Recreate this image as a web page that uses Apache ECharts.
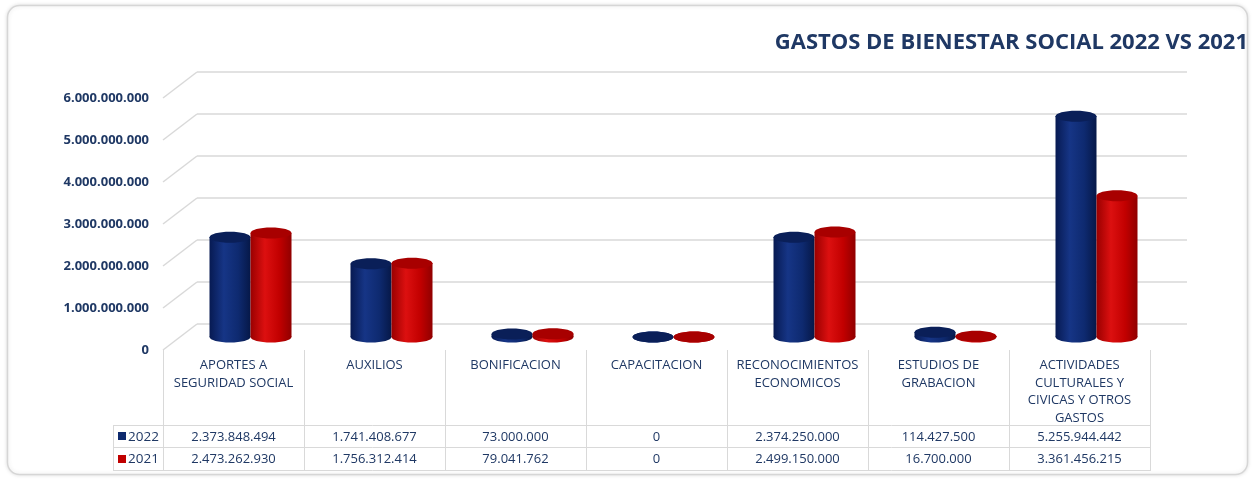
<!DOCTYPE html>
<html>
<head>
<meta charset="utf-8">
<script src="https://cdn.jsdelivr.net/npm/echarts@6/dist/echarts.min.js"></script>
<style>
  html, body { margin: 0; padding: 0; background: #fff; }
  #chart { width: 1252px; height: 479px; }
</style>
</head>
<body>
<div id="chart"></div>
<script>
// datos
const categorias = [
  'APORTES A\nSEGURIDAD SOCIAL',
  'AUXILIOS',
  'BONIFICACION',
  'CAPACITACION',
  'RECONOCIMIENTOS\nECONOMICOS',
  'ESTUDIOS DE\nGRABACION',
  'ACTIVIDADES\nCULTURALES Y\nCIVICAS Y OTROS\nGASTOS'
]
const gastos2022 = [2373848494, 1741408677, 73000000, 0, 2374250000, 114427500, 5255944442]
const gastos2021 = [2473262930, 1756312414, 79041762, 0, 2499150000, 16700000, 3361456215]
const anios = ['2022', '2021']
const ticksY = [0, 1000000000, 2000000000, 3000000000, 4000000000, 5000000000, 6000000000]

const AZUL = '#1f3864'
const FUENTE = '"Open Sans", "Noto Sans", sans-serif'
// desplazamiento de la pared del fondo (efecto 3D)
const DX = 34
const DY = -26

function puntos(n) {
  return String(n).replace(/\B(?=(\d{3})+(?!\d))/g, '.')
}

const colores = [
  { cuerpo: ['#071a52', '#163586', '#0e2a70', '#061848'], tapa: '#0a1f58' },
  { cuerpo: ['#9a0000', '#dc1010', '#c20000', '#900000'], tapa: '#a80000' }
]

function cilindro(idx) {
  return function (params, api) {
    const i = api.value(0)
    const v = api.value(1)
    const top = api.coord([i, v])
    const base = api.coord([i, 0])
    const w = 41
    const ry = 5.5
    const cx = top[0] + DX / 2 + (idx === 0 ? -w / 2 : w / 2)
    const yTop = top[1] + DY / 2
    const yBase = base[1] + DY / 2
    const c = colores[idx].cuerpo
    const grad = new echarts.graphic.LinearGradient(0, 0, 1, 0, [
      { offset: 0, color: c[0] },
      { offset: 0.35, color: c[1] },
      { offset: 0.7, color: c[2] },
      { offset: 1, color: c[3] }
    ])
    return {
      type: 'group',
      children: [
        { type: 'ellipse', shape: { cx: cx, cy: yBase, rx: w / 2, ry: ry }, style: { fill: grad } },
        { type: 'rect', shape: { x: cx - w / 2, y: yTop, width: w, height: yBase - yTop }, style: { fill: grad } },
        { type: 'ellipse', shape: { cx: cx, cy: yTop, rx: w / 2, ry: ry }, style: { fill: colores[idx].tapa } }
      ]
    }
  }
}

const chart = echarts.init(document.getElementById('chart'))

const option = {
  animation: false,
  title: {
    text: 'GASTOS DE BIENESTAR SOCIAL 2022 VS 2021',
    right: -1,
    top: 27,
    textStyle: { fontFamily: FUENTE, fontWeight: 'bold', fontSize: 22, color: AZUL }
  },
  grid: [
    { left: 163, right: 102, top: 98, bottom: 129 }, // plano frontal
    { left: 197, right: 65, top: 72, bottom: 155 } // pared del fondo
  ],
  xAxis: [
    {
      type: 'category',
      gridIndex: 0,
      data: categorias,
      axisLine: { show: false },
      axisTick: { show: true, length: 121, lineStyle: { color: '#d9d9d9', width: 1 } },
      axisLabel: {
        interval: 0,
        margin: 7,
        color: AZUL,
        fontFamily: FUENTE,
        fontSize: 13,
        lineHeight: 17.5,
        align: 'center'
      }
    },
    { type: 'value', gridIndex: 1, show: false, min: 0, max: 1 }
  ],
  yAxis: [
    {
      type: 'value',
      gridIndex: 0,
      min: 0,
      max: 6000000000,
      interval: 1000000000,
      splitLine: { show: false },
      axisLine: { show: false },
      axisTick: { show: false },
      axisLabel: {
        margin: 14,
        color: AZUL,
        fontFamily: FUENTE,
        fontWeight: 'bold',
        fontSize: 13,
        formatter: (v) => puntos(v)
      }
    },
    {
      type: 'value',
      gridIndex: 1,
      min: 0,
      max: 6000000000,
      interval: 1000000000,
      axisLine: { show: false },
      axisTick: { show: false },
      axisLabel: { show: false },
      splitLine: { lineStyle: { color: '#d9d9d9', width: 1.5 } }
    }
  ],
  series: [
    {
      // lineas diagonales del costado
      type: 'custom',
      xAxisIndex: 0,
      yAxisIndex: 0,
      silent: true,
      clip: false,
      data: ticksY.map((t) => [0, t]),
      renderItem: function (params, api) {
        const p = api.coord([0, api.value(1)])
        const x0 = p[0] - api.size([1, 0])[0] / 2
        return {
          type: 'line',
          shape: { x1: x0, y1: p[1], x2: x0 + DX, y2: p[1] + DY },
          style: { stroke: '#d9d9d9', lineWidth: 1.5 }
        }
      }
    },
    {
      name: anios[0],
      type: 'custom',
      xAxisIndex: 0,
      yAxisIndex: 0,
      clip: false,
      data: gastos2022.map((v, i) => [i, v]),
      renderItem: cilindro(0)
    },
    {
      name: anios[1],
      type: 'custom',
      xAxisIndex: 0,
      yAxisIndex: 0,
      clip: false,
      data: gastos2021.map((v, i) => [i, v]),
      renderItem: cilindro(1)
    },
    {
      // tabla de datos
      type: 'custom',
      xAxisIndex: 0,
      yAxisIndex: 0,
      silent: true,
      clip: false,
      data: gastos2022.map((v, i) => [i, v, gastos2021[i]]),
      renderItem: function (params, api) {
        const p = api.coord([api.value(0), 0])
        const celda = (txt, y) => ({
          type: 'text',
          style: {
            x: p[0], y: y, text: txt, align: 'center', verticalAlign: 'middle',
            fill: AZUL, font: '13px ' + FUENTE
          }
        })
        return {
          type: 'group',
          children: [celda(puntos(api.value(1)), 437), celda(puntos(api.value(2)), 459)]
        }
      }
    }
  ],
  graphic: [
    {
      type: 'rect',
      z: -10,
      shape: { x: 7.5, y: 5.5, width: 1240, height: 469, r: 12 },
      style: { fill: '#fff', stroke: '#d6d6d6', lineWidth: 1.5, shadowBlur: 4, shadowColor: 'rgba(0,0,0,0.12)' }
    },
    { type: 'line', shape: { x1: 113, y1: 425.5, x2: 1151, y2: 425.5 }, style: { stroke: '#d9d9d9', lineWidth: 1 } },
    { type: 'line', shape: { x1: 113, y1: 447.5, x2: 1151, y2: 447.5 }, style: { stroke: '#d9d9d9', lineWidth: 1 } },
    { type: 'line', shape: { x1: 113, y1: 470.5, x2: 1151, y2: 470.5 }, style: { stroke: '#d9d9d9', lineWidth: 1 } },
    { type: 'line', shape: { x1: 113.5, y1: 425, x2: 113.5, y2: 471 }, style: { stroke: '#d9d9d9', lineWidth: 1 } },
    { type: 'rect', shape: { x: 118, y: 432, width: 8, height: 8 }, style: { fill: '#0e2a6e' } },
    { type: 'text', style: { x: 128, y: 437, text: anios[0], verticalAlign: 'middle', fill: AZUL, font: '13.5px ' + FUENTE } },
    { type: 'rect', shape: { x: 118, y: 455, width: 8, height: 8 }, style: { fill: '#c00000' } },
    { type: 'text', style: { x: 128, y: 459, text: anios[1], verticalAlign: 'middle', fill: AZUL, font: '13.5px ' + FUENTE } }
  ]
}

chart.setOption(option)
</script>
</body>
</html>
